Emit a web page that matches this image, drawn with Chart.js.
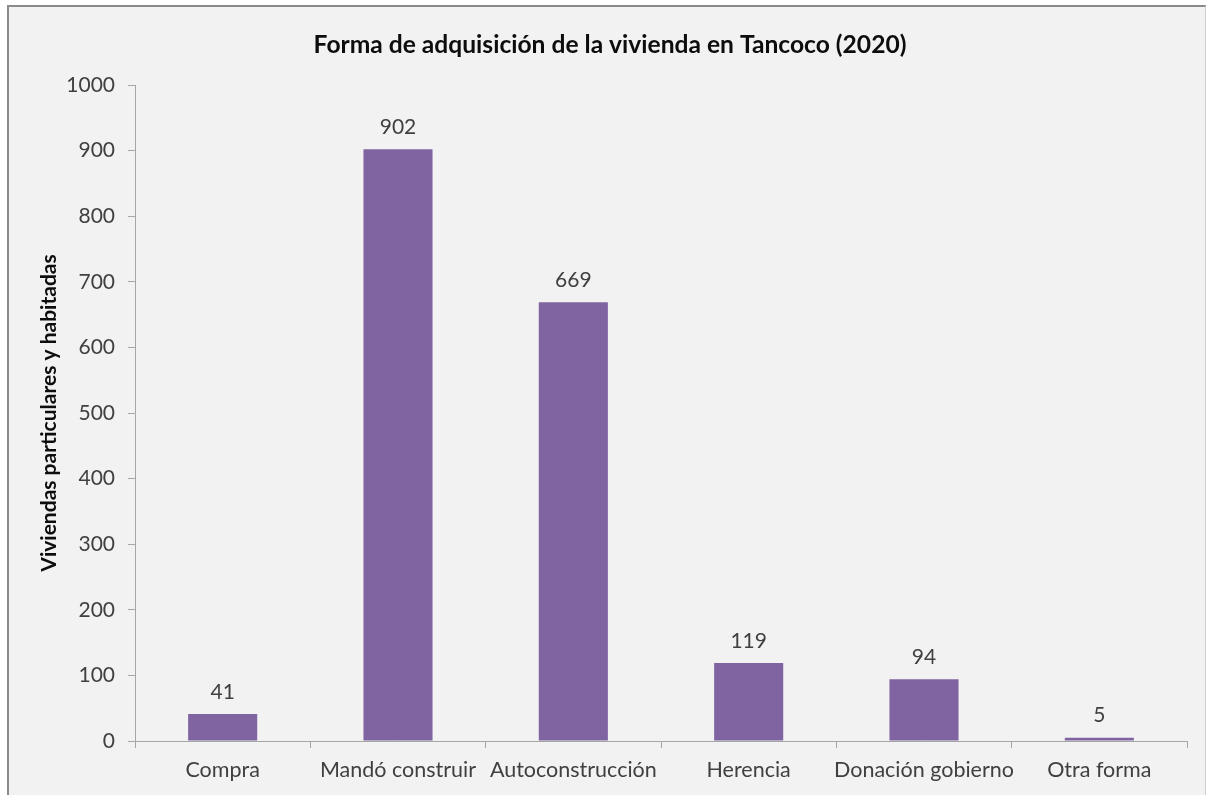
<!DOCTYPE html>
<html>
<head>
<meta charset="utf-8">
<script src="https://cdn.jsdelivr.net/npm/chart.js@4.4.0/dist/chart.umd.min.js"></script>
<style>
  html, body { margin: 0; padding: 0; background: #ffffff; }
  #wrap { position: relative; width: 1209px; height: 795px; overflow: hidden; }
  #frame { position: absolute; left: 7px; top: 5px; width: 1196px; height: 800px;
           background: #f2f2f2; border-left: 2px solid #8a8a8a; border-top: 2px solid #8a8a8a;
           border-right: 1px solid #d0d0d0; }
  canvas { position: absolute; left: 0; top: 0; }
</style>
</head>
<body>
<div id="wrap">
  <div id="frame"></div>
  <canvas id="c" width="1209" height="795"></canvas>
</div>
<script>
const chartTitle = "Forma de adquisición de la vivienda en Tancoco (2020)";
const yAxisTitle = "Viviendas particulares y habitadas";
const categories = ["Compra", "Mandó construir", "Autoconstrucción", "Herencia", "Donación gobierno", "Otra forma"];
const values = [41, 902, 669, 119, 94, 5];
const yTicks = [0, 100, 200, 300, 400, 500, 600, 700, 800, 900, 1000];

const FONT = "Lato, 'Open Sans', sans-serif";
const TXT = "#404040";
const AXIS = "#a6a6a6";

const titlePlugin = {
  id: 'customTitle',
  afterDraw(chart) {
    const ctx = chart.ctx;
    ctx.save();
    ctx.font = "bold 24.6px " + FONT;
    ctx.fillStyle = "#0d0d0d";
    ctx.textAlign = "center";
    ctx.textBaseline = "middle";
    ctx.fillText(chartTitle, 610, 45);
    ctx.restore();
  }
};

const labelPlugin = {
  id: 'barLabels',
  afterDatasetsDraw(chart) {
    const ctx = chart.ctx;
    const meta = chart.getDatasetMeta(0);
    ctx.save();
    ctx.font = "21px " + FONT;
    ctx.fillStyle = TXT;
    ctx.textAlign = "center";
    ctx.textBaseline = "middle";
    meta.data.forEach((bar, i) => {
      ctx.fillText(String(values[i]), bar.x, bar.y - 22);
    });
    ctx.restore();
  }
};

new Chart(document.getElementById('c'), {
  type: 'bar',
  data: {
    labels: categories,
    datasets: [{
      data: values,
      backgroundColor: "#8064a2",
      borderWidth: 0,
      categoryPercentage: 1.0,
      barPercentage: 0.394
    }]
  },
  options: {
    responsive: false,
    animation: false,
    devicePixelRatio: 1,
    layout: { padding: { top: 85, left: 0, right: 22, bottom: 0 } },
    plugins: { legend: { display: false }, tooltip: { enabled: false }, title: { display: false } },
    scales: {
      x: {
        grid: { display: true, offset: true, drawOnChartArea: false, drawTicks: true, tickLength: 7, color: AXIS },
        border: { display: true, color: AXIS, width: 1 },
        ticks: { color: TXT, font: { family: FONT, size: 21.5 }, padding: 9, maxRotation: 0, autoSkip: false },
        afterFit(scale) { scale.height = 54; }
      },
      y: {
        min: 0, max: 1000,
        afterBuildTicks(scale) { scale.ticks = yTicks.map(v => ({ value: v })); },
        grid: { display: true, drawOnChartArea: false, drawTicks: true, tickLength: 7, color: AXIS },
        border: { display: true, color: AXIS, width: 1 },
        ticks: { color: TXT, font: { family: FONT, size: 21 }, padding: 13, callback: (v) => String(v) },
        title: { display: true, text: yAxisTitle, color: "#0d0d0d", font: { family: FONT, size: 21, weight: 'bold' }, padding: { top: 37, bottom: 0 } },
        afterFit(scale) { scale.width = 135; }
      }
    }
  },
  plugins: [titlePlugin, labelPlugin]
});
</script>
</body>
</html>
